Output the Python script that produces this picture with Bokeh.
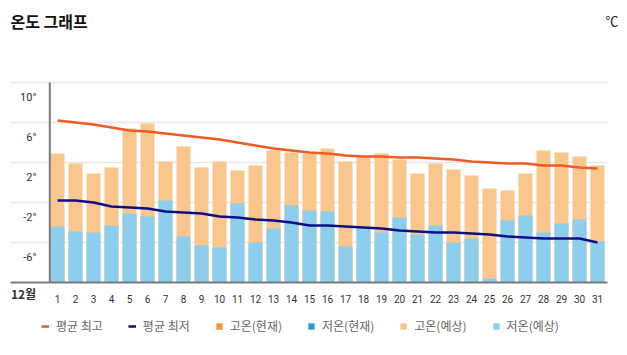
import math
from bokeh.plotting import figure
from bokeh.models import (Range1d, FixedTicker, Label, Legend, LegendItem, ColumnDataSource)
from bokeh.core.properties import value
from bokeh.embed import file_html
from bokeh.resources import INLINE

# ---------------- data ----------------
days = list(range(1, 32))
high_forecast = [2.9, 1.9, 0.9, 1.5, 5.4, 5.9, 2.1, 3.6, 1.5, 2.1, 1.2, 1.7, 3.2, 3.0, 2.9, 3.4,
                 2.1, 2.6, 2.9, 2.3, 0.9, 1.9, 1.3, 0.7, -0.6, -0.8, 0.9, 3.2, 3.0, 2.6, 1.7]
low_forecast = [-4.4, -4.9, -5.0, -4.3, -3.1, -3.4, -1.8, -5.4, -6.3, -6.5, -2.1, -6.0, -4.6, -2.3,
                -2.8, -2.9, -6.4, -4.4, -5.0, -3.5, -5.2, -4.3, -6.0, -5.6, -9.6, -3.8, -3.3, -5.0,
                -4.1, -3.7, -5.9]
# observed ("현재") values: none shown in this chart
high_current = [None] * 31
low_current = [None] * 31
avg_high = [6.2, 6.0, 5.8, 5.5, 5.2, 5.1, 4.9, 4.7, 4.5, 4.3, 4.0, 3.7, 3.4, 3.2, 3.0, 2.9,
            2.7, 2.6, 2.6, 2.5, 2.5, 2.4, 2.3, 2.1, 2.0, 1.9, 1.9, 1.7, 1.7, 1.5, 1.4]
avg_low = [-1.8, -1.8, -2.0, -2.4, -2.5, -2.6, -2.9, -3.0, -3.1, -3.4, -3.5, -3.7, -3.8, -4.0,
           -4.3, -4.3, -4.4, -4.5, -4.6, -4.8, -4.9, -5.0, -5.0, -5.1, -5.2, -5.4, -5.5, -5.6,
           -5.6, -5.6, -6.0]
y_ticks = [10, 6, 2, -2, -6]
y_tick_labels = ["10°", "6°", "2°", "-2°", "-6°"]
x_tick_labels = [str(d) for d in days]
month_label = "12월"
title_text = "온도 그래프"
unit_text = "℃"
legend_labels = ["평균 최고", "평균 최저", "고온(현재)", "저온(현재)", "고온(예상)", "저온(예상)"]

# ---------------- layout / style ----------------
W, H = 627, 355
PX_PER_DAY = 18.0      # horizontal scale
PX_PER_DEG = 10.0      # vertical scale
DAY1_PX = 57.0         # pixel column of day 1
AXIS_PX = 282.0        # pixel row of the value axis baseline
Y_MIN, Y_MAX = -10, 10


def xd(px):
    return 1 + (px - DAY1_PX) / PX_PER_DAY


def yd(py):
    return Y_MIN + (AXIS_PX - py) / PX_PER_DEG


def num(vals):
    return [math.nan if v is None else v for v in vals]


FONT = "Noto Sans CJK KR"
NUM_FONT = "Roboto"
C_AVG_HIGH = "#F15A24"
C_AVG_LOW = "#0F0F82"
C_HIGH_NOW = "#F7943C"
C_LOW_NOW = "#2B9AD6"
C_HIGH_FC = "#F9C78E"
C_LOW_FC = "#8ECDEB"
AXIS_C = "#7a7a7a"
GRID_C = "#e8e8e8"

p = figure(width=W, height=H, x_range=Range1d(xd(0), xd(W)), y_range=Range1d(yd(H), yd(0)),
           output_backend="svg", toolbar_location=None, y_axis_location=None,
           min_border=0, min_border_left=0, min_border_right=0, min_border_top=0,
           min_border_bottom=0)
p.outline_line_color = None
p.background_fill_color = "white"
p.border_fill_color = "white"
for g in p.grid:
    g.visible = False

frame_x0, frame_x1 = xd(10), xd(607)

# horizontal grid lines at the y ticks
p.segment(x0=[frame_x0] * len(y_ticks), x1=[frame_x1] * len(y_ticks), y0=y_ticks, y1=y_ticks,
          line_color=GRID_C, line_width=1.5)

src = ColumnDataSource(dict(x=days, hi=high_forecast, lo=low_forecast,
                            hc=num(high_current), lc=num(low_current),
                            ah=avg_high, al=avg_low))

r_hi_fc = p.vbar(x="x", bottom=Y_MIN, top="hi", width=0.78, source=src,
                 fill_color=C_HIGH_FC, line_color=None)
r_lo_fc = p.vbar(x="x", bottom=Y_MIN, top="lo", width=0.78, source=src,
                 fill_color=C_LOW_FC, line_color=None)
r_hi_now = p.vbar(x="x", bottom=Y_MIN, top="hc", width=0.78, source=src,
                  fill_color=C_HIGH_NOW, line_color=None)
r_lo_now = p.vbar(x="x", bottom=Y_MIN, top="lc", width=0.78, source=src,
                  fill_color=C_LOW_NOW, line_color=None)
r_ah = p.line(x="x", y="ah", source=src, line_color=C_AVG_HIGH, line_width=2.5)
r_al = p.line(x="x", y="al", source=src, line_color=C_AVG_LOW, line_width=2.5)

# x axis drawn at the baseline value
xa = p.xaxis[0]
xa.fixed_location = Y_MIN
xa.bounds = (frame_x0, frame_x1)
xa.ticker = FixedTicker(ticks=days)
xa.major_label_overrides = {d: s for d, s in zip(days, x_tick_labels)}
xa.axis_line_color = AXIS_C
xa.axis_line_width = 2
xa.major_tick_line_color = None
xa.minor_tick_line_color = None
xa.major_label_standoff = 6
xa.major_label_text_font_size = "10px"
xa.major_label_text_font = NUM_FONT
xa.major_label_text_color = "#333333"

# y axis line and its labels
y_axis_x = xd(49.3)
p.segment(x0=[y_axis_x], x1=[y_axis_x], y0=[Y_MIN], y1=[Y_MAX], line_color=AXIS_C, line_width=2)
p.text(x=[xd(36)] * len(y_ticks), y=[t - 1.5 for t in y_ticks], text=y_tick_labels,
       text_align="right", text_baseline="middle", text_font_size="11px",
       text_color="#333333", text_font=value(NUM_FONT))

# title, unit and month label
p.add_layout(Label(x=xd(10), y=yd(20), text=title_text, text_font=FONT, text_font_size="16px",
                   text_font_style="bold", text_color="#111111", text_baseline="middle",
                   text_align="left"))
p.add_layout(Label(x=xd(618), y=yd(20), text=unit_text, text_font=FONT, text_font_size="13px",
                   text_color="#222222", text_baseline="middle", text_align="right"))
p.add_layout(Label(x=xd(23), y=yd(293), text=month_label, text_font=FONT, text_font_size="12px",
                   text_font_style="bold", text_color="#333333", text_baseline="middle",
                   text_align="center"))

legend = Legend(items=[
    LegendItem(label=legend_labels[0], renderers=[r_ah]),
    LegendItem(label=legend_labels[1], renderers=[r_al]),
    LegendItem(label=legend_labels[2], renderers=[r_hi_now]),
    LegendItem(label=legend_labels[3], renderers=[r_lo_now]),
    LegendItem(label=legend_labels[4], renderers=[r_hi_fc]),
    LegendItem(label=legend_labels[5], renderers=[r_lo_fc]),
], orientation="horizontal", location=(41, H - 334), glyph_width=8, glyph_height=8,
    label_standoff=7, spacing=25, padding=0, margin=0, label_height=14,
    label_text_font=FONT, label_text_font_size="12px", label_text_color="#666666",
    border_line_color=None, background_fill_alpha=0)
p.add_layout(legend, "center")

open("out.html", "w").write(file_html(p, INLINE))
